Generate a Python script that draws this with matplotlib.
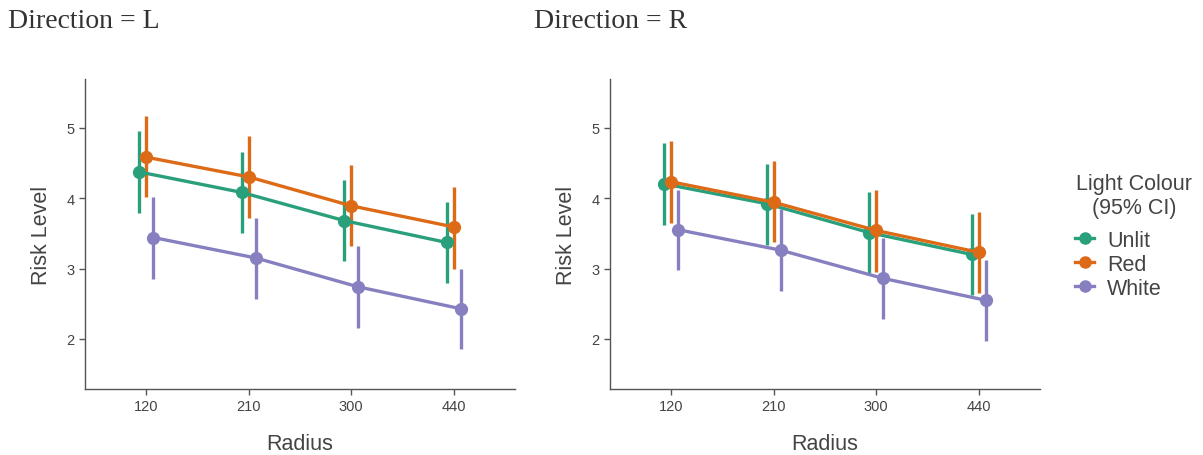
import matplotlib
matplotlib.use("Agg")
import matplotlib.pyplot as plt
import numpy as np
from matplotlib.lines import Line2D

radius = ["120", "210", "300", "440"]
colours = ["Unlit", "Red", "White"]
palette = {"Unlit": "#2a9f7c", "Red": "#dd6a16", "White": "#8680c0"}

# Direction = L
L_mean = {"Unlit": [4.37, 4.08, 3.68, 3.37],
          "Red":   [4.58, 4.30, 3.89, 3.59],
          "White": [3.44, 3.15, 2.74, 2.43]}
L_low = {"Unlit": [3.79, 3.51, 3.10, 2.79],
         "Red":   [4.01, 3.72, 3.32, 3.00],
         "White": [2.85, 2.57, 2.16, 1.86]}
L_high = {"Unlit": [4.95, 4.66, 4.26, 3.95],
          "Red":   [5.17, 4.88, 4.47, 4.16],
          "White": [4.01, 3.72, 3.32, 3.00]}

# Direction = R
R_mean = {"Unlit": [4.20, 3.92, 3.51, 3.20],
          "Red":   [4.23, 3.94, 3.54, 3.23],
          "White": [3.55, 3.26, 2.86, 2.55]}
R_low = {"Unlit": [3.62, 3.34, 2.93, 2.62],
         "Red":   [3.65, 3.37, 2.95, 2.65],
         "White": [2.98, 2.68, 2.28, 1.97]}
R_high = {"Unlit": [4.78, 4.49, 4.08, 3.77],
          "Red":   [4.81, 4.52, 4.11, 3.80],
          "White": [4.12, 3.84, 3.44, 3.12]}

yticks = [2, 3, 4, 5]
dodge = {"Unlit": -0.068, "Red": 0.0, "White": 0.068}

fig = plt.figure(figsize=(12.03, 4.56), dpi=100)
axL = fig.add_axes([85/1203, 1-390/456, 430/1203, 310/456])
axR = fig.add_axes([610/1203, 1-390/456, 430/1203, 310/456])

gray = "#444444"
for ax, mean, low, high, title, tx in [
        (axL, L_mean, L_low, L_high, "Direction = L", 8/1203),
        (axR, R_mean, R_low, R_high, "Direction = R", 534/1203)]:
    x = np.arange(len(radius))
    for c in colours:
        xs = x + dodge[c]
        ax.vlines(xs, low[c], high[c], color=palette[c], lw=2.4, zorder=2)
        ax.plot(xs, mean[c], color=palette[c], lw=2.4, marker="o",
                markersize=8.5, zorder=3, solid_capstyle="round")
    ax.set_xlim(-0.6, 3.6)
    ax.set_ylim(1.29, 5.69)
    ax.set_xticks(x)
    ax.set_xticklabels(radius)
    ax.set_yticks(yticks)
    ax.set_yticklabels([str(v) for v in yticks])
    for s in ["top", "right"]:
        ax.spines[s].set_visible(False)
    for s in ["left", "bottom"]:
        ax.spines[s].set_color("#555555")
        ax.spines[s].set_linewidth(1.0)
    ax.tick_params(axis="both", colors="#555555", labelcolor=gray,
                   labelsize=10.5, length=4, width=1.0)
    for lab in ax.get_xticklabels() + ax.get_yticklabels():
        lab.set_family("Liberation Sans")
    ax.set_xlabel("Radius", fontsize=15.5, color=gray, family="Liberation Sans", labelpad=14)
    ax.set_ylabel("Risk Level", fontsize=15.5, color=gray, family="Liberation Sans", labelpad=10.5)
    fig.text(tx, 1-28/456, title, fontsize=20, family="Liberation Serif",
             color="#333333", va="baseline", ha="left")

# legend title
fig.text(1134/1203, 1-185/456, "Light Colour", fontsize=15.5, color=gray,
         family="Liberation Sans", ha="center", va="center")
fig.text(1134/1203, 1-209/456, "(95% CI)", fontsize=15.5, color=gray,
         family="Liberation Sans", ha="center", va="center")

handles = [Line2D([0], [0], color=palette[c], lw=2.4, marker="o", markersize=8)
           for c in colours]
leg = fig.legend(handles, colours,
                 loc="upper left", bbox_to_anchor=(1075/1203, 1-231/456),
                 frameon=False, fontsize=15.5,
                 handlelength=0.9, handletextpad=0.6,
                 labelspacing=0.14, borderaxespad=0, borderpad=0)
for t in leg.get_texts():
    t.set_color(gray)
    t.set_family("Liberation Sans")

fig.savefig("out.png", dpi=100)
